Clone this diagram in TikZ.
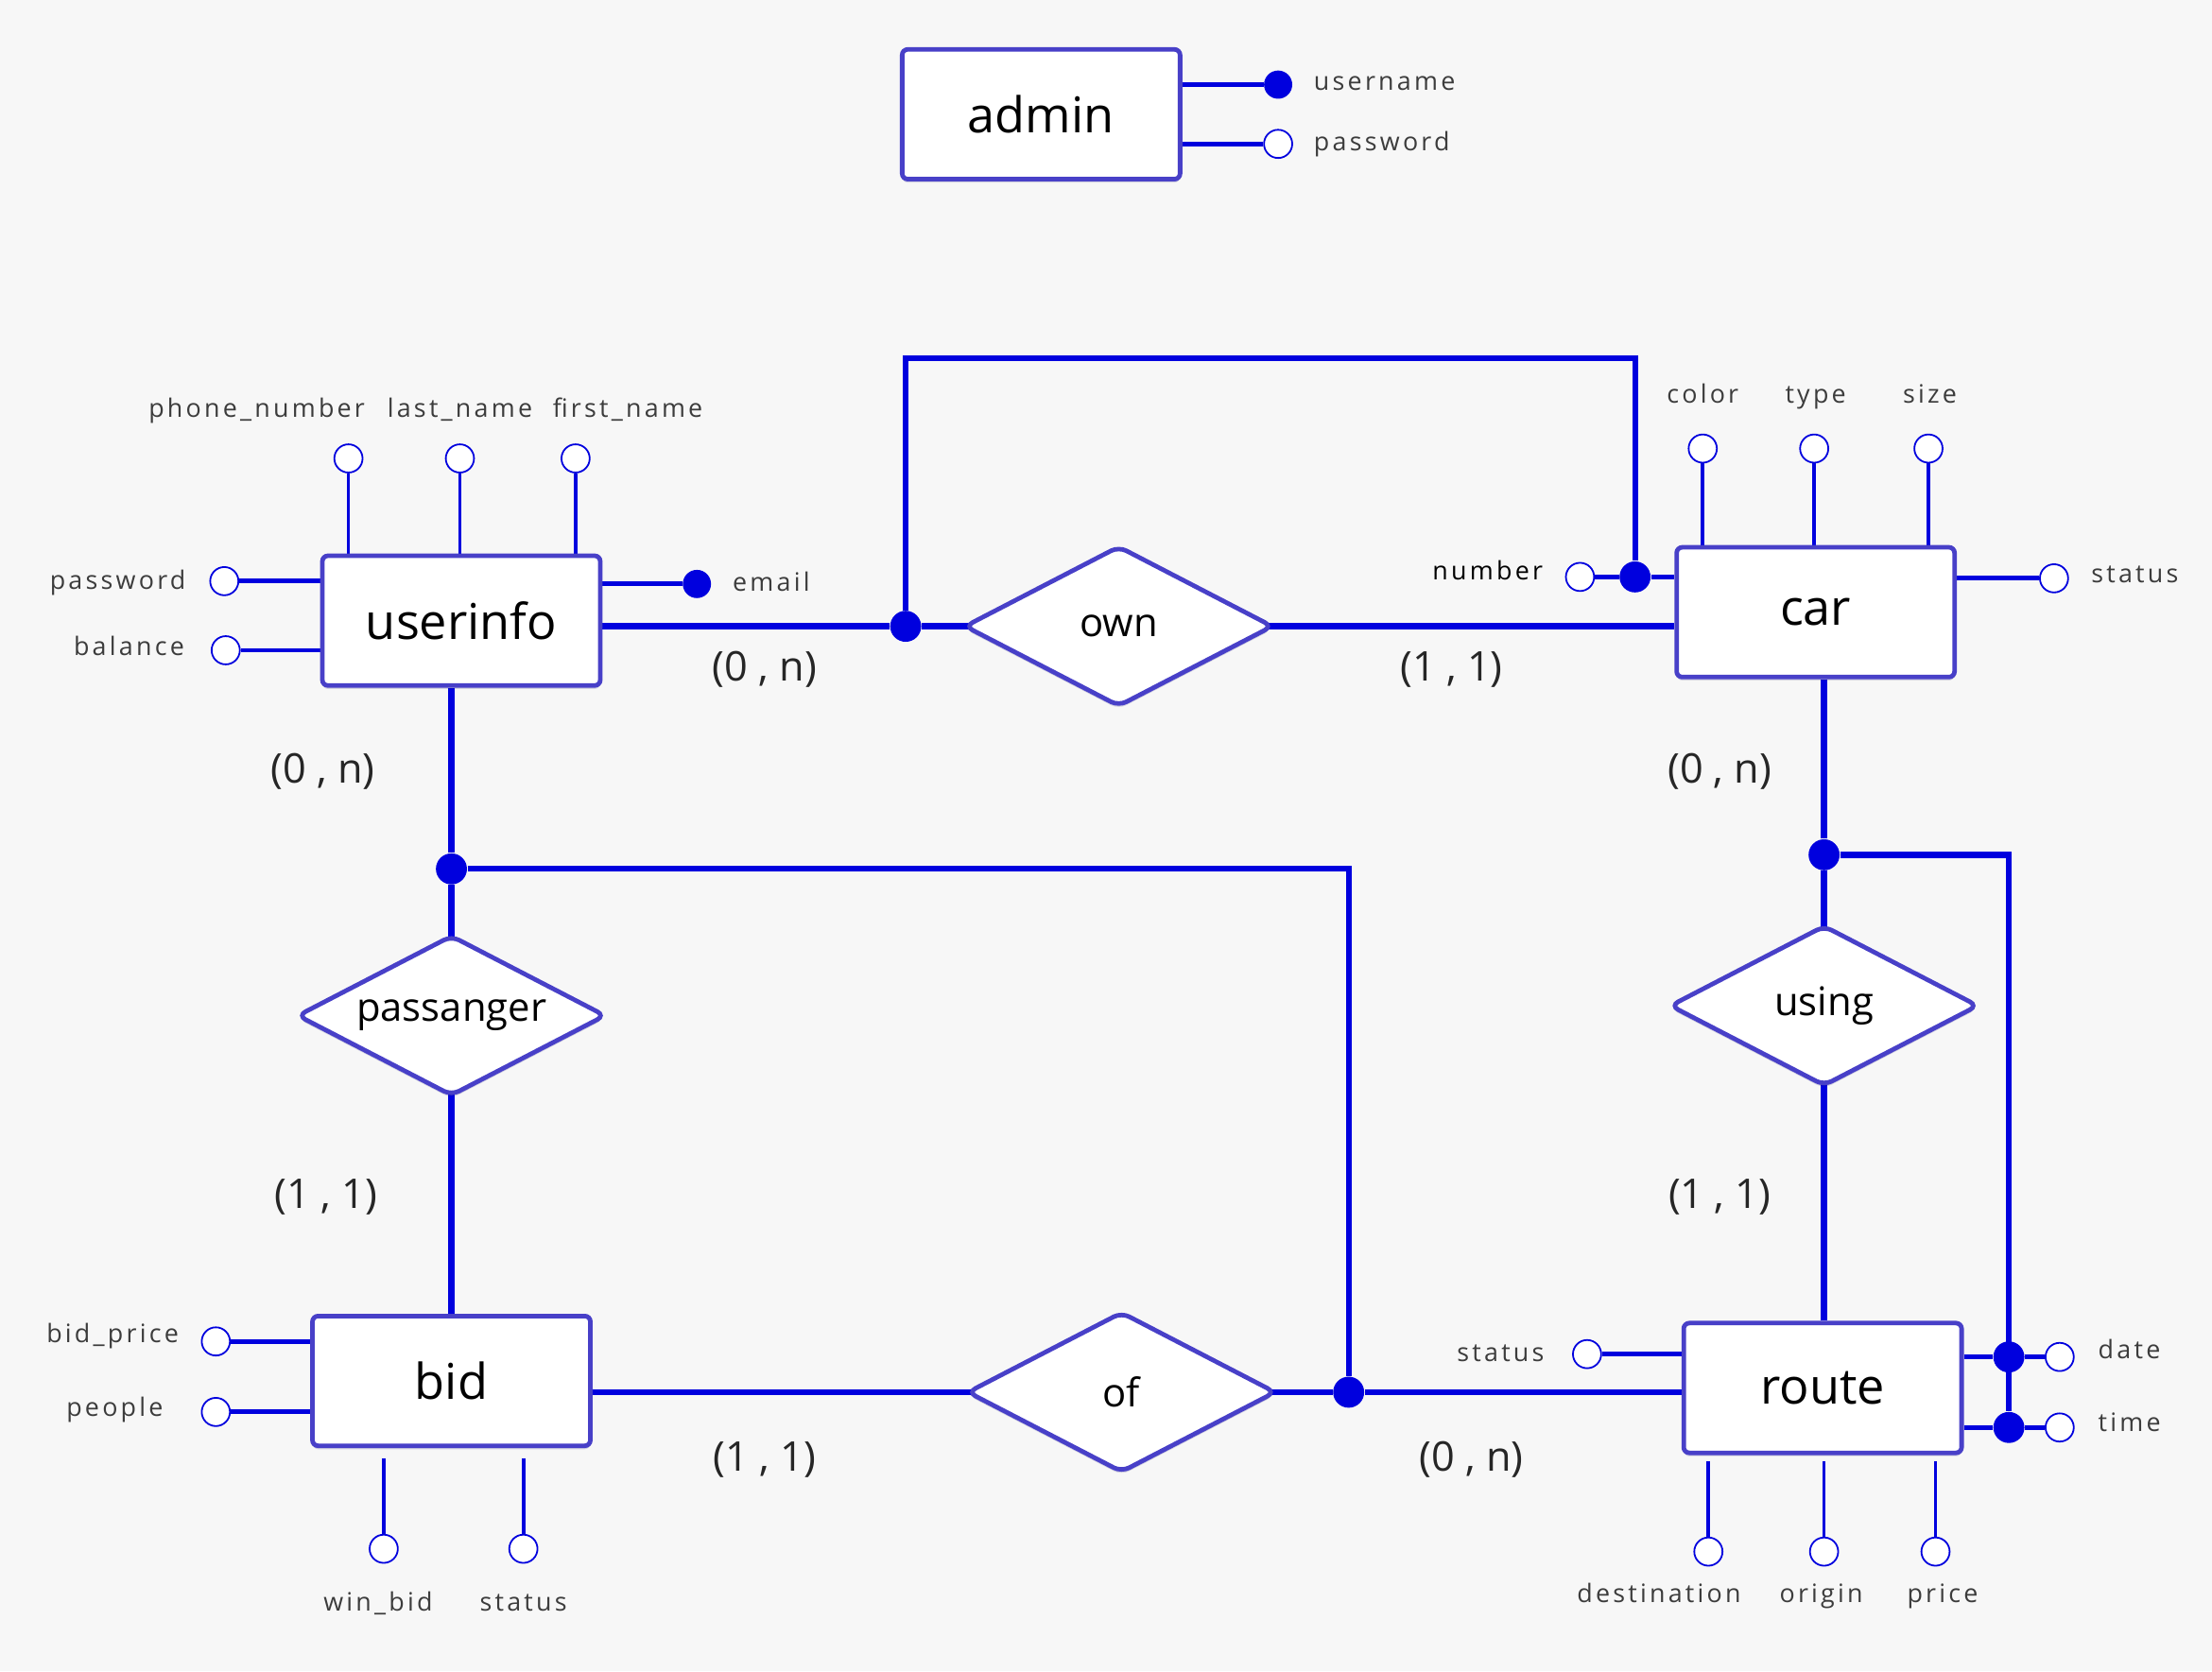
\documentclass[tikz,border=0pt]{standalone}
\usepackage{fontspec}
\setmainfont{Open Sans}
\newfontfamily\attrfont[LetterSpace=12]{Open Sans}
\usetikzlibrary{shapes.geometric,shadows,calc}
\pgfdeclarelayer{back}
\pgfsetlayers{back,main}
\definecolor{linkblue}{RGB}{0,0,222}
\definecolor{boxblue}{RGB}{72,64,200}
\definecolor{pagegray}{RGB}{247,247,247}
\definecolor{textgray}{RGB}{60,60,60}

\begin{document}
\begin{tikzpicture}%
	[x={(0.5pt,0pt)},
	y={(0pt,-0.5pt)},
	entity/.style={rectangle, draw=boxblue, line width=1.6pt, fill=white, rounded corners=2pt,
		minimum width=98.5pt, minimum height=46pt, inner sep=0pt,
		font=\fontsize{17.5}{20}\selectfont,
		drop shadow={shadow xshift=0pt, shadow yshift=-1.2pt, opacity=0.18, fill=boxblue!60!black}},
	relation/.style={diamond, aspect=1.92, draw=boxblue, line width=1.6pt, fill=white, rounded corners=3pt,
		minimum width=109.5pt, minimum height=57pt, inner sep=0pt,
		font=\fontsize{14}{16}\selectfont,
		drop shadow={shadow xshift=0pt, shadow yshift=-1.2pt, opacity=0.18, fill=boxblue!60!black}},
	attr/.style={circle, draw=linkblue, line width=0.6pt, fill=white, minimum size=10pt, inner sep=0pt},
	keyattr/.style={circle, fill=linkblue, minimum size=10pt, inner sep=0pt},
	junction/.style={circle, fill=linkblue, minimum size=11pt, inner sep=0pt},
	relline/.style={draw=linkblue, line width=2.1pt},
	attredge/.style={draw=linkblue, line width=1.6pt},
	stemedge/.style={draw=linkblue, line width=1.25pt},
	attrlabel/.style={text=textgray, font=\attrfont\fontsize{9}{11}\selectfont, inner sep=0pt,
		text height=0.75em, text depth=0.25em},
	cardlabel/.style={text=black!85, font=\fontsize{14.5}{17}\selectfont, inner sep=0pt,
		text height=0.75em, text depth=0.25em}]
%
\useasboundingbox (0,0) rectangle (1568,1185);
%%
%% entities and relations
%%
\node[entity] (admin) at (738,81) {admin};
\node[entity] (userinfo) at (327,440) {userinfo};
\node[entity] (car) at (1287,434) {car};
\node[entity] (bid) at (320,979) {bid};
\node[entity] (route) at (1292,984) {route};
\node[relation] (own) at (793,444) {own};
\node[relation] (passanger) at (320,720) {passanger};
\node[relation] (using) at (1293,713) {using};
\node[relation] (of) at (795,987) {of};
%%
%% junctions
%%
\node[junction] (jown) at (642,444) {};
\node[junction] (jnum) at (1159,409) {};
\node[junction] (jpas) at (320,616) {};
\node[junction] (jof) at (956,987) {};
\node[junction] (jusing) at (1293,606) {};
\node[junction] (jdate) at (1424,962) {};
\node[junction] (jtime) at (1424,1012) {};
\coordinate (ownbend) at (1159,254);
%%
%% admin attributes
%%
\node[keyattr] (ausername) at (906,60) {};
\node[attr] (apassword) at (906,102) {};
\node[attrlabel, anchor=west] (ausernametext) at (931,59) {username};
\node[attrlabel, anchor=west] (apasswordtext) at (931,102) {password};
%%
%% userinfo attributes
%%
\node[attr] (uphone) at (247,325) {};
\node[attr] (ulast) at (326,325) {};
\node[attr] (ufirst) at (408,325) {};
\node[attr] (upassword) at (159,412) {};
\node[attr] (ubalance) at (160,461) {};
\node[keyattr] (uemail) at (494,414) {};
\node[attrlabel] (uphonetext) at (182,291) {phone\_number};
\node[attrlabel] (ulasttext) at (326,291) {last\_name};
\node[attrlabel] (ufirsttext) at (445,291) {first\_name};
\node[attrlabel, anchor=east] (upasswordtext) at (132,413) {password};
\node[attrlabel, anchor=east] (ubalancetext) at (131,460) {balance};
\node[attrlabel, anchor=west] (uemailtext) at (519,414) {email};
%%
%% car attributes
%%
\node[attr] (ccolor) at (1207,318) {};
\node[attr] (ctype) at (1286,318) {};
\node[attr] (csize) at (1367,318) {};
\node[attr] (cnumber) at (1120,409) {};
\node[attr] (cstatus) at (1456,410) {};
\node[attrlabel] (ccolortext) at (1207,281) {color};
\node[attrlabel] (ctypetext) at (1287,281) {type};
\node[attrlabel] (csizetext) at (1368,281) {size};
\node[attrlabel, anchor=east, text=black] (cnumbertext) at (1094,406) {number};
\node[attrlabel, anchor=west] (cstatustext) at (1482,408) {status};
%%
%% bid attributes
%%
\node[attr] (bprice) at (153,951) {};
\node[attr] (bpeople) at (153,1001) {};
\node[attr] (bwin) at (272,1098) {};
\node[attr] (bstatus) at (371,1098) {};
\node[attrlabel, anchor=east] (bpricetext) at (127,947) {bid\_price};
\node[attrlabel, anchor=east] (bpeopletext) at (116,999) {people};
\node[attrlabel] (bwintext) at (268,1137) {win\_bid};
\node[attrlabel] (bstatustext) at (371,1137) {status};
%%
%% route attributes
%%
\node[attr] (rstatus) at (1125,960) {};
\node[attr] (rdate) at (1460,962) {};
\node[attr] (rtime) at (1460,1012) {};
\node[attr] (rdest) at (1211,1100) {};
\node[attr] (rorigin) at (1293,1100) {};
\node[attr] (rprice) at (1372,1100) {};
\node[attrlabel, anchor=east] (rstatustext) at (1095,960) {status};
\node[attrlabel, anchor=west] (rdatetext) at (1487,958) {date};
\node[attrlabel, anchor=west] (rtimetext) at (1487,1010) {time};
\node[attrlabel] (rdesttext) at (1176,1131) {destination};
\node[attrlabel] (rorigintext) at (1291,1131) {origin};
\node[attrlabel] (rpricetext) at (1377,1131) {price};
%%
%% cardinalities
%%
\node[cardlabel] (cuserown) at (542,478) {(0 , n)};
\node[cardlabel] (ccarown) at (1029,478) {(1 , 1)};
\node[cardlabel] (cuserpas) at (229,550) {(0 , n)};
\node[cardlabel] (ccarusing) at (1219,550) {(0 , n)};
\node[cardlabel] (cbidpas) at (231,852) {(1 , 1)};
\node[cardlabel] (crouteusing) at (1219,852) {(1 , 1)};
\node[cardlabel] (cbidof) at (542,1038) {(1 , 1)};
\node[cardlabel] (crouteof) at (1043,1038) {(0 , n)};
%%
%% connectors, drawn behind the nodes
%%
\begin{pgfonlayer}{back}
\fill[pagegray] (0,0) rectangle (1568,1185);
% relations
\draw[relline] (userinfo.east |- jown) -- (jown) -- (own.center);
\draw[relline] (jown) |- (ownbend) -- (jnum);
\draw[relline] (own.center) -- (car.west |- own.center);
\draw[relline] (jusing |- car.south) -- (jusing) -- (using.center);
\draw[relline] (jusing) -| (jtime);
\draw[relline] (using.center) -- (using.center |- route.north);
\draw[relline] (jpas |- userinfo.south) -- (jpas) -- (passanger.center);
\draw[relline] (jpas) -| (jof);
\draw[relline] (passanger.center) -- (passanger.center |- bid.north);
\draw[relline] (bid.east |- of.center) -- (of.center);
\draw[relline] (of.center) -- (jof) -- (route.west |- jof);
% admin
\draw[attredge] (admin.east |- ausername) -- (ausername);
\draw[attredge] (admin.east |- apassword) -- (apassword);
% userinfo
\draw[stemedge] (uphone) -- (uphone |- userinfo.north);
\draw[stemedge] (ulast) -- (ulast |- userinfo.north);
\draw[stemedge] (ufirst) -- (ufirst |- userinfo.north);
\draw[attredge] (upassword) -- (userinfo.west |- upassword);
\draw[attredge] (ubalance) -- (userinfo.west |- ubalance);
\draw[attredge] (userinfo.east |- uemail) -- (uemail);
% car
\draw[stemedge] (ccolor) -- (ccolor |- car.north);
\draw[stemedge] (ctype) -- (ctype |- car.north);
\draw[stemedge] (csize) -- (csize |- car.north);
\draw[attredge] (cnumber) -- (jnum) -- (car.west |- jnum);
\draw[attredge] (car.east |- cstatus) -- (cstatus);
% bid
\draw[attredge] (bprice) -- (bid.west |- bprice);
\draw[attredge] (bpeople) -- (bid.west |- bpeople);
\draw[stemedge] (bwin) -- ($(bwin |- bid.south)+(0,7)$);
\draw[stemedge] (bstatus) -- ($(bstatus |- bid.south)+(0,7)$);
% route
\draw[attredge] (rstatus) -- (route.west |- rstatus);
\draw[attredge] (route.east |- rdate) -- (jdate) -- (rdate);
\draw[attredge] (route.east |- rtime) -- (jtime) -- (rtime);
\draw[stemedge] (rdest) -- ($(rdest |- route.south)+(0,4)$);
\draw[stemedge] (rorigin) -- ($(rorigin |- route.south)+(0,4)$);
\draw[stemedge] (rprice) -- ($(rprice |- route.south)+(0,4)$);
\end{pgfonlayer}

\end{tikzpicture}
\end{document}
